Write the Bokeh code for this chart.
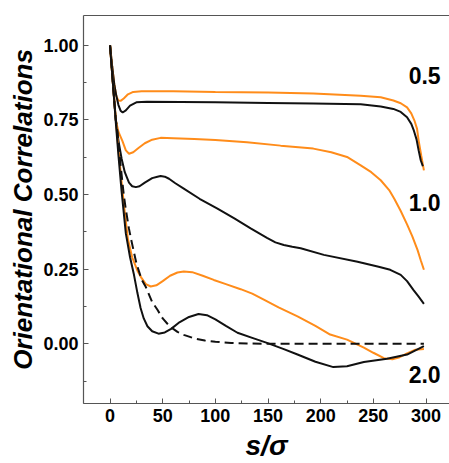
from bokeh.plotting import figure
from bokeh.models import LinearAxis, FixedTicker, SingleIntervalTicker, NumeralTickFormatter, Range1d
from bokeh.core.properties import value
from bokeh.embed import file_html
from bokeh.resources import INLINE

# ---- data ----
s_ref = [0, 3, 5.5, 7, 10, 13, 15, 18, 20, 25, 30, 34, 40, 45, 50, 55, 60, 64, 70, 80, 90, 100, 115, 130, 150, 200, 250, 298]
c_ref = [1.0, 0.86, 0.75, 0.71, 0.60, 0.50, 0.45, 0.385, 0.35, 0.27, 0.215, 0.19, 0.14, 0.114, 0.085, 0.065, 0.05, 0.04, 0.03, 0.018, 0.011, 0.007, 0.003, 0.001, 0.0, 0.0, 0.0, 0.0]

s_o05 = [0, 2, 4, 6, 8, 10, 13, 17, 22, 30, 60, 100, 150, 193, 238, 257, 269, 276, 282, 286, 289, 291.5, 293, 295.5, 298]
c_o05 = [1.0, 0.93, 0.87, 0.83, 0.815, 0.814, 0.822, 0.836, 0.844, 0.846, 0.846, 0.844, 0.842, 0.839, 0.831, 0.826, 0.815, 0.806, 0.792, 0.772, 0.748, 0.72, 0.681, 0.63, 0.581]

s_b05 = [0, 2, 4, 6, 8, 10, 12, 15, 19, 25, 35, 100, 150, 193, 238, 257, 269, 276, 282, 286, 288.5, 291, 293, 295, 297]
c_b05 = [1.0, 0.93, 0.87, 0.83, 0.80, 0.781, 0.775, 0.782, 0.798, 0.809, 0.811, 0.809, 0.807, 0.805, 0.803, 0.795, 0.787, 0.777, 0.759, 0.737, 0.714, 0.685, 0.648, 0.615, 0.595]

s_o10 = [0, 3, 5.5, 8, 11.7, 15, 18, 22, 27, 33, 40, 48, 60, 80, 100, 130, 162, 193, 210, 225, 238, 248, 257, 265, 270, 276, 282, 287, 292, 295, 298]
c_o10 = [1.0, 0.86, 0.75, 0.71, 0.68, 0.648, 0.637, 0.642, 0.656, 0.672, 0.684, 0.69, 0.689, 0.686, 0.683, 0.675, 0.664, 0.654, 0.642, 0.626, 0.598, 0.575, 0.548, 0.515, 0.485, 0.445, 0.40, 0.36, 0.314, 0.28, 0.248]

s_b10 = [0, 3, 5.5, 8, 11, 14, 18, 21, 24.5, 28, 33, 40, 45, 48, 52, 56, 62, 70, 85, 102, 118, 133.5, 149, 157, 165, 173, 181, 203, 235, 255, 266, 276, 282, 288, 293, 298]
c_b10 = [1.0, 0.86, 0.75, 0.68, 0.62, 0.575, 0.54, 0.528, 0.525, 0.528, 0.54, 0.555, 0.56, 0.562, 0.56, 0.553, 0.538, 0.52, 0.486, 0.453, 0.42, 0.387, 0.355, 0.34, 0.331, 0.325, 0.32, 0.298, 0.275, 0.258, 0.248, 0.231, 0.21, 0.181, 0.158, 0.134]

s_o20 = [0, 3, 5.5, 8, 11, 14, 17, 21, 26, 30, 34, 38.6, 44, 50, 57, 64, 70, 78, 88, 98.5, 110, 124, 135, 146, 160, 178, 195, 209, 225, 241, 250, 260, 268, 275, 282, 290, 298]
c_o20 = [1.0, 0.86, 0.75, 0.65, 0.54, 0.44, 0.35, 0.29, 0.245, 0.22, 0.2, 0.192, 0.196, 0.21, 0.228, 0.239, 0.242, 0.24, 0.228, 0.214, 0.2, 0.183, 0.168, 0.148, 0.122, 0.092, 0.06, 0.031, 0.014, -0.013, -0.03, -0.048, -0.052, -0.045, -0.032, -0.02, -0.017]

s_b20 = [0, 3, 5.5, 8, 11, 15, 19, 22.5, 26, 29, 32, 35.5, 40, 46, 52, 58, 65, 75, 84, 92, 100, 110, 121, 135, 149, 165, 178, 195, 212, 225, 241, 263, 282, 298]
c_b20 = [1.0, 0.86, 0.74, 0.63, 0.51, 0.37, 0.29, 0.235, 0.17, 0.12, 0.085, 0.059, 0.042, 0.034, 0.038, 0.05, 0.07, 0.09, 0.1, 0.096, 0.082, 0.06, 0.037, 0.02, 0.003, -0.018, -0.036, -0.06, -0.078, -0.075, -0.061, -0.05, -0.036, -0.008]

label_x = [283.5, 283.5, 283.5]
label_y = [0.898, 0.474, -0.102]
label_text = ["0.5", "1.0", "2.0"]

ORANGE = "#FF8C1A"
BLACK = "#111111"
AXIS = "#555555"
FONT = "Liberation Sans"

p = figure(width=449, height=463, output_backend="svg", toolbar_location=None,
           x_range=Range1d(-25.2, 322.3), y_range=Range1d(-0.2, 1.1),
           min_border_left=83, min_border_right=0, min_border_top=15, min_border_bottom=59)
p.outline_line_color = None
p.xgrid.visible = False
p.ygrid.visible = False
p.background_fill_color = "white"
p.border_fill_color = "white"

p.line(s_o05, c_o05, line_color=ORANGE, line_width=2)
p.line(s_b05, c_b05, line_color=BLACK, line_width=2)
p.line(s_o10, c_o10, line_color=ORANGE, line_width=2)
p.line(s_b10, c_b10, line_color=BLACK, line_width=2)
p.line(s_o20, c_o20, line_color=ORANGE, line_width=2)
p.line(s_b20, c_b20, line_color=BLACK, line_width=2)
p.line(s_ref, c_ref, line_color=BLACK, line_width=2, line_dash="9 5")

p.text(x=label_x, y=label_y, text=label_text, text_font=value(FONT), text_font_style="bold",
       text_font_size="23px", text_align="left", text_baseline="middle", text_color="black")

xa = p.xaxis[0]
xa.ticker = SingleIntervalTicker(interval=50, num_minor_ticks=2)
ya = p.yaxis[0]
ya.ticker = SingleIntervalTicker(interval=0.25, num_minor_ticks=2)
ya.formatter = NumeralTickFormatter(format="0.00")

for ax in (xa, ya):
    ax.axis_line_color = AXIS
    ax.axis_line_width = 1.2
    ax.major_tick_line_color = AXIS
    ax.minor_tick_line_color = AXIS
    ax.major_tick_in = 5
    ax.major_tick_out = 0
    ax.minor_tick_in = 3
    ax.minor_tick_out = 0
    ax.major_label_text_font = FONT
    ax.major_label_text_font_style = "bold"
    ax.major_label_text_font_size = "18px"
    ax.major_label_text_color = "black"
    ax.axis_label_text_font = FONT
    ax.axis_label_text_font_style = "bold italic"
    ax.axis_label_text_color = "black"

xa.axis_label = "s/σ"
xa.axis_label_text_font_size = "28px"
xa.major_label_standoff = 5
xa.axis_label_standoff = 5
ya.axis_label = "Orientational Correlations"
ya.axis_label_text_font_size = "26px"
ya.major_label_standoff = 5
ya.axis_label_standoff = 2

top = LinearAxis(ticker=FixedTicker(ticks=[]), major_label_text_font_size="0px",
                 major_tick_line_color=None, minor_tick_line_color=None,
                 axis_line_color=AXIS, axis_line_width=1.2)
p.add_layout(top, "above")

open("out.html", "w").write(file_html(p, INLINE))
